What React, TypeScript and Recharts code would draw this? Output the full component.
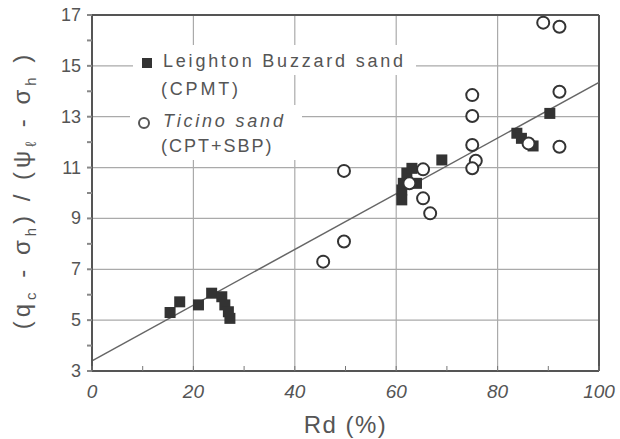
import { ScatterChart, Scatter, XAxis, YAxis, CartesianGrid, ReferenceLine } from 'recharts';

interface Pt { x: number; y: number }

// Leighton Buzzard sand (CPMT) - filled squares
const leightonRd = [15.4, 17.3, 21.0, 23.6, 25.6, 26.2, 26.9, 27.2, 61.1, 61.1, 61.4, 62.1, 63.1, 64.0, 69.0, 83.8, 84.7, 87.0, 90.3];
const leightonQ = [5.3, 5.72, 5.6, 6.06, 5.92, 5.6, 5.33, 5.07, 9.73, 10.12, 10.38, 10.78, 10.97, 10.38, 11.3, 12.35, 12.15, 11.85, 13.13];

// Ticino sand (CPT + SBP) - open circles
const ticinoRd = [45.6, 49.7, 49.7, 62.6, 65.3, 65.3, 66.7, 75.0, 75.0, 75.0, 75.7, 75.0, 86.1, 89.0, 92.2, 92.2, 92.2];
const ticinoQ = [7.3, 8.09, 10.87, 10.38, 10.93, 9.79, 9.2, 13.85, 13.03, 11.89, 11.27, 10.97, 11.95, 16.7, 16.54, 13.98, 11.82];

// fitted line end points
const fitRd = [0, 100];
const fitQ = [3.4, 14.35];

const xTicks = [0, 10, 20, 30, 40, 50, 60, 70, 80, 90, 100];
const yTicks = [3, 4, 5, 6, 7, 8, 9, 10, 11, 12, 13, 14, 15, 16, 17];
const xGrid = [20, 40, 60, 80];
const yGrid = [5, 7, 9, 11, 13, 15];

const toPts = (xs: number[], ys: number[]): Pt[] => xs.map((x, i) => ({ x, y: ys[i] }));
const leighton = toPts(leightonRd, leightonQ);
const ticino = toPts(ticinoRd, ticinoQ);
const fit = toPts(fitRd, fitQ);

const INK = '#333';
const TXT = '#555';
const FONT = '"Liberation Sans", Arial, sans-serif';

const Square = (p: any) => <rect x={p.cx - 5.5} y={p.cy - 5.5} width={11} height={11} fill={INK} />;
const Ring = (p: any) => <circle cx={p.cx} cy={p.cy} r={6} fill="#fff" stroke={INK} strokeWidth={2} />;

const XTick = (p: any) => {
  const v = p.payload.value;
  const axisY = p.y - 10;
  return (
    <g>
      <line x1={p.x} x2={p.x} y1={axisY} y2={axisY - 5} stroke="#777" strokeWidth={1} />
      {v % 20 === 0 && (
        <text x={p.x} y={p.y + 17} textAnchor="middle" fontSize={19} fill={TXT} fontFamily={FONT} fontStyle="italic">
          {v}
        </text>
      )}
    </g>
  );
};

const YTick = (p: any) => {
  const v = p.payload.value;
  if (v % 2 === 0) return <g />;
  return (
    <text x={p.x - 2} y={p.y + 6} textAnchor="end" fontSize={18} fill={TXT} fontFamily={FONT}>
      {v}
    </text>
  );
};

const YLabel = () => (
  <text
    x={30}
    y={190}
    transform="rotate(-90, 30, 190)"
    textAnchor="middle"
    fontSize={24}
    fill={TXT}
    fontFamily={FONT}
    letterSpacing={4}
  >
    <tspan>(q</tspan>
    <tspan dy={6} fontSize={15}>c</tspan>
    <tspan dy={-6}> - σ</tspan>
    <tspan dy={6} fontSize={15}>h</tspan>
    <tspan dy={-6}>) / (ψ</tspan>
    <tspan dy={6} fontSize={15}>ℓ</tspan>
    <tspan dy={-6}> - σ</tspan>
    <tspan dy={6} fontSize={15}>h</tspan>
    <tspan dy={-6}> )</tspan>
  </text>
);

const legendText: React.CSSProperties = {
  position: 'absolute',
  fontFamily: FONT,
  fontSize: 18,
  color: TXT,
  letterSpacing: 2.8,
  whiteSpace: 'nowrap',
  lineHeight: '20px',
};

export default function App() {
  return (
    <div style={{ position: 'absolute', left: 0, top: 0, width: 620, height: 439, background: '#fff' }}>
      <ScatterChart width={620} height={439} margin={{ top: 15, right: 21, left: 0, bottom: 0 }}>
        <CartesianGrid stroke="#aaa" strokeWidth={1.2} horizontalValues={yGrid} verticalValues={xGrid} />
        <XAxis
          type="number"
          dataKey="x"
          domain={[0, 100]}
          ticks={xTicks}
          interval={0}
          height={68}
          stroke="#555"
          strokeWidth={2}
          tickLine={false}
          tickSize={0}
          tickMargin={10}
          tick={<XTick />}
          label={{ value: 'Rd (%)', position: 'insideBottom', offset: 6, fontSize: 24, fill: TXT, fontFamily: FONT, letterSpacing: 1.5 }}
        />
        <YAxis
          type="number"
          dataKey="y"
          domain={[3, 17]}
          ticks={yTicks}
          interval={0}
          width={92}
          stroke="#555"
          strokeWidth={2}
          tickSize={5}
          tickLine={{ stroke: '#888' }}
          tickMargin={4}
          tick={<YTick />}
          label={<YLabel />}
        />
        <ReferenceLine y={17} stroke="#555" strokeWidth={2} />
        <ReferenceLine x={100} stroke="#555" strokeWidth={2} />
        <ReferenceLine segment={[fit[0], fit[1]]} stroke="#666" strokeWidth={1.5} />
        <Scatter data={leighton} shape={Square} isAnimationActive={false} />
        <Scatter data={ticino} shape={Ring} isAnimationActive={false} />
      </ScatterChart>
      <div style={{ position: 'absolute', left: 133, top: 45, width: 283, height: 30, background: '#fff' }} />
      <div style={{ position: 'absolute', left: 133, top: 75, width: 115, height: 30, background: '#fff' }} />
      <div style={{ position: 'absolute', left: 130, top: 105, width: 172, height: 55, background: '#fff' }} />
      <div style={{ position: 'absolute', left: 142, top: 58, width: 10, height: 10, background: INK }} />
      <div style={{ ...legendText, left: 163, top: 51 }}>Leighton Buzzard sand</div>
      <div style={{ ...legendText, left: 161, top: 79 }}>(CPMT)</div>
      <div
        style={{ position: 'absolute', left: 138, top: 117, width: 8, height: 8, border: `2px solid ${TXT}`, borderRadius: '50%' }}
      />
      <div style={{ ...legendText, left: 163, top: 111, fontStyle: 'italic' }}>Ticino sand</div>
      <div style={{ ...legendText, left: 161, top: 136, letterSpacing: 2 }}>(CPT+SBP)</div>
    </div>
  );
}
